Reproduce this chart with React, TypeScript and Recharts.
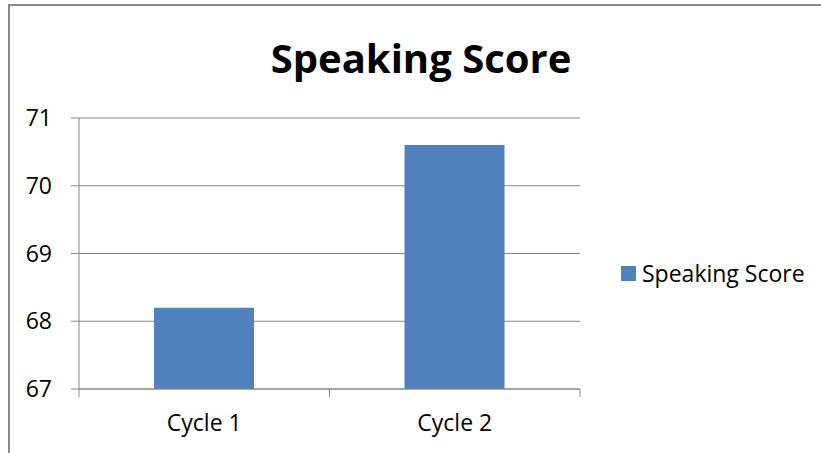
import React from "react";
import { BarChart, Bar, XAxis, YAxis, CartesianGrid, Legend } from "recharts";

const categories = ["Cycle 1", "Cycle 2"];
const speakingScore = [68.2, 70.6];
const yTicks = [67, 68, 69, 70, 71];
const seriesName = "Speaking Score";
const title = "Speaking Score";

const data = categories.map((c, i) => ({ name: c, score: speakingScore[i] }));

const FONT = "'Open Sans', sans-serif";
const GRID = "#868686";
const BAR = "#4f81bd";

const CatTick = (props: any) => {
  const { x, y, payload, index, visibleTicksCount } = props;
  const off = payload.offset || 0;
  const axisY = y - 26;
  return (
    <g>
      <line x1={x - off} x2={x - off} y1={axisY} y2={axisY + 8} stroke={GRID} strokeWidth={1} />
      {index === visibleTicksCount - 1 && (
        <line x1={x + off} x2={x + off} y1={axisY} y2={axisY + 8} stroke={GRID} strokeWidth={1} />
      )}
      <text x={x} y={y} dy="0.71em" textAnchor="middle" fill="#000" fontFamily={FONT} fontSize={23}>
        {payload.value}
      </text>
    </g>
  );
};

const LegendContent = () => (
  <div style={{ display: "flex", alignItems: "center", height: 30, fontFamily: FONT, fontSize: 23, color: "#000" }}>
    <div style={{ width: 15, height: 15, background: BAR, marginRight: 6 }} />
    <span>{seriesName}</span>
  </div>
);

export default function App() {
  return (
    <div style={{ position: "absolute", left: 0, top: 0, width: 821, height: 453, overflow: "hidden", background: "#fff" }}>
      <div
        style={{
          position: "absolute",
          left: 8,
          top: 4,
          width: 900,
          height: 520,
          border: "2px solid #8a8a8a",
          boxSizing: "border-box",
        }}
      />
      <div style={{ position: "absolute", left: 0, top: 0 }}>
        <BarChart width={821} height={453} data={data} margin={{ top: 118, right: 241, left: 0, bottom: 0 }}>
          <text x={421} y={73} textAnchor="middle" fontFamily={FONT} fontWeight="bold" fontSize={40} fill="#000">
            {title}
          </text>
          <CartesianGrid horizontal vertical={false} stroke={GRID} strokeWidth={1} />
          <XAxis
            dataKey="name"
            height={64}
            tickLine={false}
            tickSize={0}
            tickMargin={26}
            axisLine={{ stroke: GRID, strokeWidth: 1 }}
            tick={<CatTick />}
            interval={0}
          />
          <YAxis
            width={79}
            domain={[67, 71]}
            ticks={yTicks}
            tickSize={8}
            tickMargin={19}
            axisLine={{ stroke: GRID, strokeWidth: 1 }}
            tickLine={{ stroke: GRID, strokeWidth: 1 }}
            tick={{ fill: "#000", fontFamily: FONT, fontSize: 23 }}
            interval={0}
          />
          <Legend
            layout="horizontal"
            align="center"
            verticalAlign="middle"
            content={<LegendContent />}
            wrapperStyle={{ left: 621, top: 258, width: 200, height: 30 }}
          />
          <Bar dataKey="score" name={seriesName} fill={BAR} barSize={100} isAnimationActive={false} />
        </BarChart>
      </div>
    </div>
  );
}
